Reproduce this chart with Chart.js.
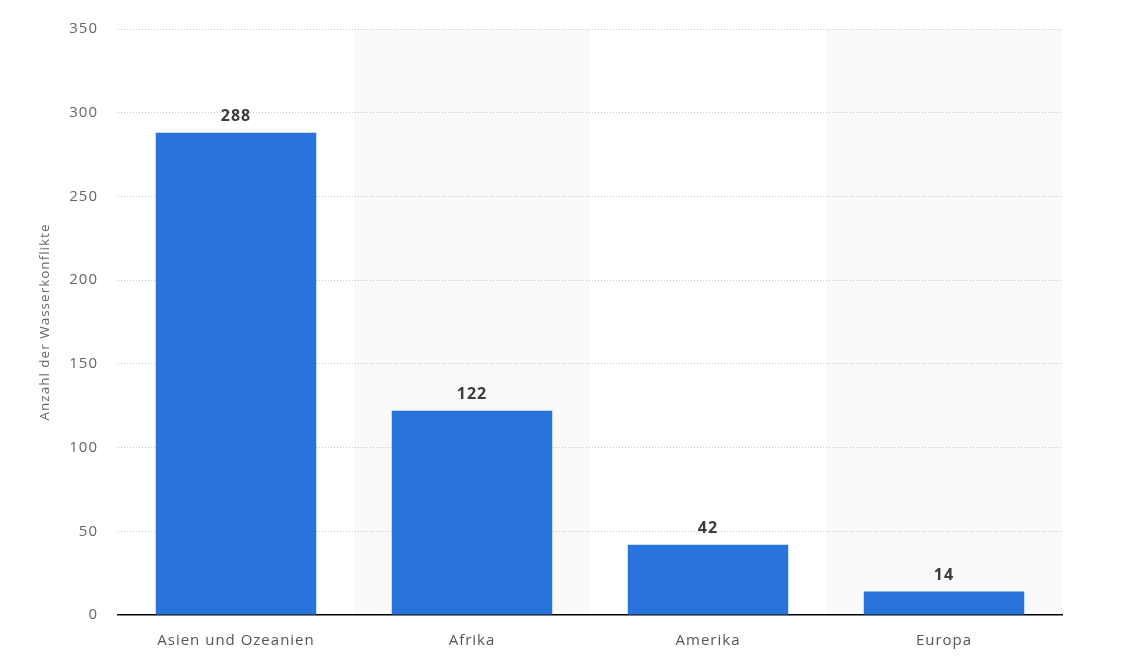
<!DOCTYPE html>
<html>
<head>
<meta charset="utf-8">
<script src="https://cdn.jsdelivr.net/npm/chart.js@4/dist/chart.umd.min.js"></script>
<style>
  html, body { margin: 0; padding: 0; background: #fff; }
  #wrap { width: 1132px; height: 656px; }
</style>
</head>
<body>
<div id="wrap"><canvas id="myChart" width="1132" height="656"></canvas></div>
<script>
const categories = ['Asien und Ozeanien', 'Afrika', 'Amerika', 'Europa'];
const conflicts = [288, 122, 42, 14];
const yTicks = [0, 50, 100, 150, 200, 250, 300, 350];

// grey bands behind every second category, drawn before grid and axes
const bandPlugin = {
  id: 'bands',
  beforeDraw(chart) {
    const { ctx, chartArea, scales } = chart;
    ctx.letterSpacing = '1px';
    const step = (chartArea.right - chartArea.left) / categories.length;
    ctx.save();
    ctx.fillStyle = '#f9f9f9';
    categories.forEach((c, i) => {
      if (i % 2 === 1) {
        const cx = scales.x.getPixelForValue(i);
        ctx.fillRect(cx - step / 2, chartArea.top, step, chartArea.bottom - chartArea.top);
      }
    });
    ctx.restore();
  }
};

const labelPlugin = {
  id: 'valueLabels',
  afterDatasetsDraw(chart) {
    const { ctx } = chart;
    const meta = chart.getDatasetMeta(0);
    ctx.save();
    ctx.fillStyle = '#3c3c3c';
    ctx.font = 'bold 16px "Open Sans", sans-serif';
    ctx.textAlign = 'center';
    ctx.textBaseline = 'bottom';
    meta.data.forEach((bar, i) => {
      ctx.fillText(conflicts[i], bar.x, bar.y - 8);
    });
    ctx.restore();
  }
};

const ctx = document.getElementById('myChart');
const myChart = new Chart(ctx, {
  type: 'bar',
  data: {
    labels: categories,
    datasets: [{
      data: conflicts,
      backgroundColor: '#2874dc',
      categoryPercentage: 0.68,
      barPercentage: 1.0
    }]
  },
  options: {
    responsive: false,
    animation: false,
    layout: { padding: { left: 37, right: 70, top: 21, bottom: 0 } },
    plugins: {
      legend: { display: false },
      tooltip: { enabled: false }
    },
    scales: {
      x: {
        grid: { display: false },
        border: { display: true, color: '#000', width: 1.5 },
        ticks: {
          color: '#555',
          font: { family: '"Open Sans", sans-serif', size: 15 },
          padding: 9
        },
        afterFit(scale) { scale.height = 41; }
      },
      y: {
        min: 0,
        max: 350,
        afterBuildTicks(scale) { scale.ticks = yTicks.map(v => ({ value: v })); },
        border: { display: false, dash: [1, 2] },
        grid: {
          color: (c) => c.tick && c.tick.value === 0 ? 'rgba(0,0,0,0)' : '#c8c8c8',
          drawTicks: false,
          lineWidth: 1
        },
        ticks: {
          color: '#666',
          font: { family: '"Open Sans", sans-serif', size: 15 },
          padding: 20
        },
        title: {
          display: true,
          text: 'Anzahl der Wasserkonflikte',
          color: '#666',
          font: { family: '"Open Sans", sans-serif', size: 13.5 },
          padding: { top: 0, bottom: 4 }
        },
        afterFit(scale) { scale.width = 81; }
      }
    }
  },
  plugins: [bandPlugin, labelPlugin]
});
</script>
</body>
</html>
